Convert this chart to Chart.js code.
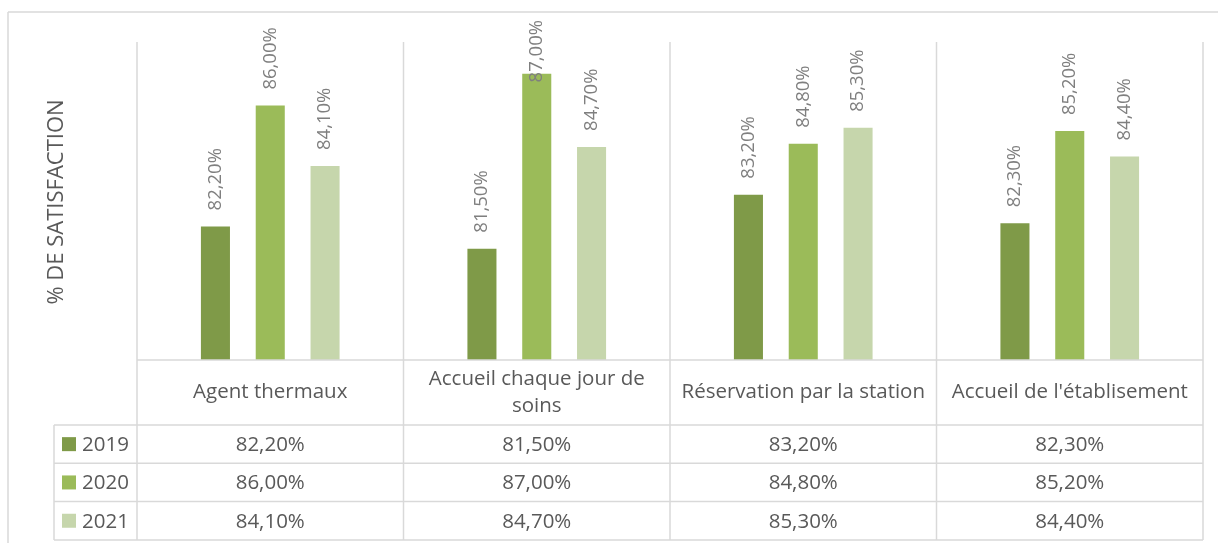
<!DOCTYPE html>
<html>
<head>
<meta charset="utf-8">
<script src="https://cdn.jsdelivr.net/npm/chart.js@4"></script>
<style>
  html, body { margin: 0; padding: 0; background: #fff; }
  #wrap { width: 1218px; height: 543px; }
</style>
</head>
<body>
<div id="wrap"><canvas id="satisfactionChart"></canvas></div>
<script>
const categories = ['Agent thermaux', ['Accueil chaque jour de', 'soins'], 'Réservation par la station', "Accueil de l'établisement"];
const years = ['2019', '2020', '2021'];
const values2019 = [82.2, 81.5, 83.2, 82.3];
const values2020 = [86.0, 87.0, 84.8, 85.2];
const values2021 = [84.1, 84.7, 85.3, 84.4];
const barColors = ['#7f9a48', '#9bbb59', '#c6d6ac'];
const axisTitle = '% DE SATISFACTION';

const FONT = '"Open Sans", sans-serif';

function fmt(v) {
    return v.toFixed(2).replace('.', ',') + '%';
}

// draws the frame, the data table under the bars, the value labels and the axis title
const tablePlugin = {
    id: 'dataTable',
    afterDatasetsDraw(chart) {
        const ctx = chart.ctx;
        const area = chart.chartArea;
        const n = categories.length;
        const colW = (area.right - area.left) / n;
        const catRowH = 65;
        const rowH = 38.3;
        const legendLeft = 54;
        const tableTop = area.bottom + catRowH;
        const tableBottom = tableTop + rowH * years.length;

        function line(x1, y1, x2, y2) {
            ctx.beginPath();
            ctx.moveTo(x1, y1);
            ctx.lineTo(x2, y2);
            ctx.stroke();
        }

        ctx.save();
        ctx.strokeStyle = '#d9d9d9';
        ctx.lineWidth = 1.5;
        line(8, 12, chart.width, 12);
        line(8, 12, 8, chart.height);
        for (let i = 0; i <= n; i++) {
            const x = area.left + i * colW;
            line(x, area.top, x, tableBottom);
        }
        line(legendLeft, tableTop, legendLeft, tableBottom);
        line(area.left, area.bottom, area.right, area.bottom);
        for (let r = 0; r <= years.length; r++) {
            const y = tableTop + r * rowH;
            line(legendLeft, y, area.right, y);
        }

        // category row
        ctx.fillStyle = '#595959';
        ctx.font = '20.5px ' + FONT;
        ctx.textAlign = 'center';
        ctx.textBaseline = 'middle';
        categories.forEach((c, i) => {
            const lines = Array.isArray(c) ? c : [c];
            const cx = chart.scales.x.getPixelForValue(i);
            const cy = area.bottom + catRowH / 2;
            lines.forEach((t, k) => {
                ctx.fillText(t, cx, cy + (k - (lines.length - 1) / 2) * 27);
            });
        });

        // value rows
        const series = [values2019, values2020, values2021];
        ctx.font = '20.5px ' + FONT;
        years.forEach((yr, r) => {
            const cy = tableTop + r * rowH + rowH / 2;
            ctx.fillStyle = barColors[r];
            ctx.fillRect(62, cy - 7, 14, 14);
            ctx.fillStyle = '#595959';
            ctx.textAlign = 'left';
            ctx.fillText(yr, 82, cy + 1);
            ctx.textAlign = 'center';
            series[r].forEach((v, i) => {
                ctx.fillText(fmt(v), chart.scales.x.getPixelForValue(i), cy + 1);
            });
        });

        // rotated value labels above the bars
        ctx.font = '18.5px ' + FONT;
        ctx.fillStyle = '#7f7f7f';
        chart.data.datasets.forEach((ds, d) => {
            chart.getDatasetMeta(d).data.forEach((bar, i) => {
                const txt = fmt(ds.data[i]);
                const w = ctx.measureText(txt).width;
                let start = bar.y - 16;
                if (start - w < 20) start = 20 + w;
                ctx.save();
                ctx.translate(bar.x, start);
                ctx.rotate(-Math.PI / 2);
                ctx.textAlign = 'left';
                ctx.textBaseline = 'middle';
                ctx.fillText(txt, 0, 0);
                ctx.restore();
            });
        });

        // axis title
        ctx.font = '22px ' + FONT;
        ctx.fillStyle = '#595959';
        ctx.save();
        ctx.translate(57, 202);
        ctx.rotate(-Math.PI / 2);
        ctx.textAlign = 'center';
        ctx.textBaseline = 'middle';
        ctx.fillText(axisTitle, 0, 0);
        ctx.restore();

        ctx.restore();
    }
};

const canvas = document.getElementById('satisfactionChart');
const ctx = canvas.getContext('2d');
new Chart(ctx, {
    type: 'bar',
    data: {
        labels: categories,
        datasets: years.map((yr, i) => ({
            label: yr,
            data: [values2019, values2020, values2021][i],
            backgroundColor: barColors[i],
            categoryPercentage: 0.617,
            barPercentage: 0.53
        }))
    },
    options: {
        responsive: true,
        maintainAspectRatio: false,
        animation: false,
        devicePixelRatio: 1,
        layout: {
            padding: { left: 137, right: 15, top: 42, bottom: 183 }
        },
        plugins: {
            legend: { display: false },
            title: { display: false },
            tooltip: { enabled: false }
        },
        scales: {
            x: { display: false },
            y: { display: false, min: 78, max: 88 }
        }
    },
    plugins: [tablePlugin]
});
</script>
</body>
</html>
